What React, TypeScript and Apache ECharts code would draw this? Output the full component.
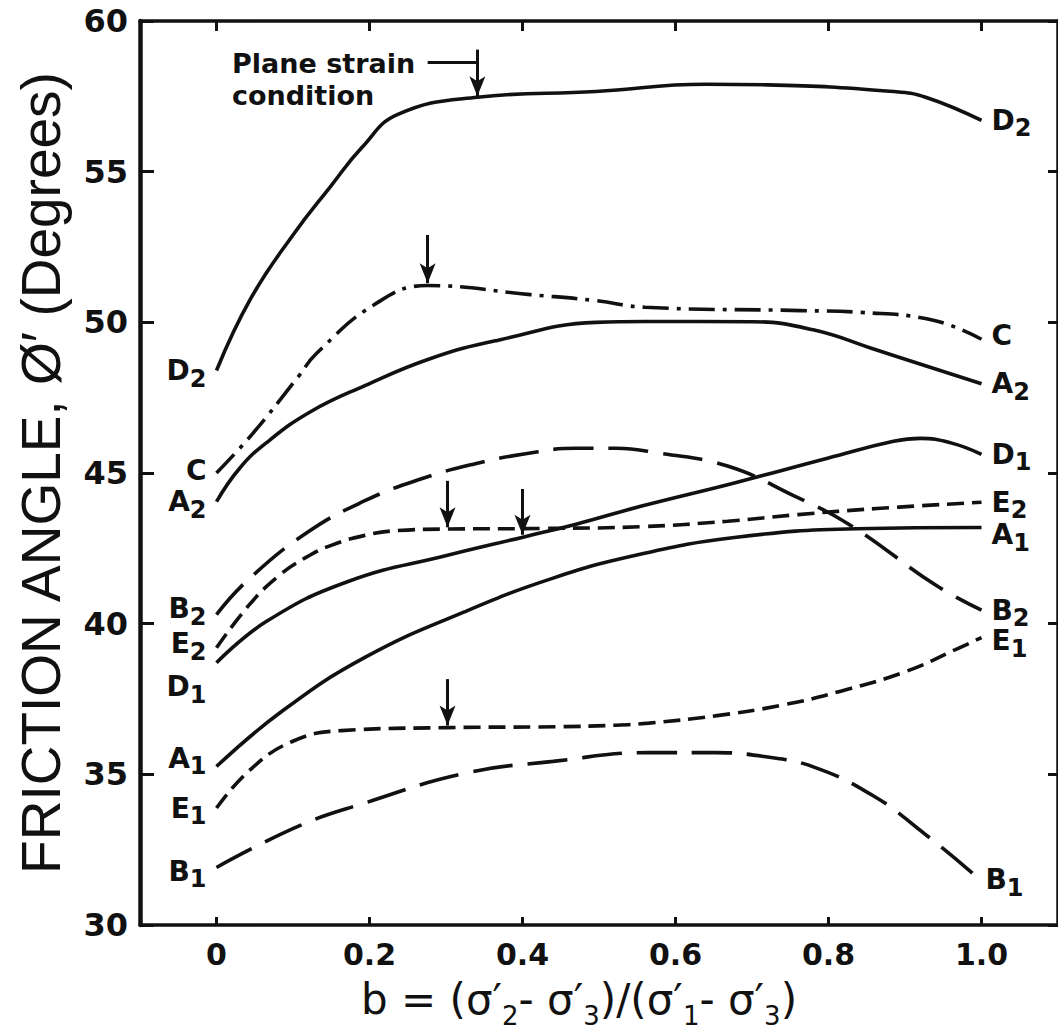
import React, { useEffect, useRef } from "react";
import * as echarts from "echarts";

// ---- axis ticks ----
const X_TICKS = [0, 0.2, 0.4, 0.6, 0.8, 1.0];
const X_TICK_LABELS = ["0", "0.2", "0.4", "0.6", "0.8", "1.0"];
const Y_TICKS = [30, 35, 40, 45, 50, 55, 60];

// ---- curves: [b, friction angle] ----
const D2 = [[0, 48.4], [0.045, 50.8], [0.1, 52.9], [0.15, 54.54], [0.19, 55.8], [0.237, 56.9], [0.341, 57.47], [0.496, 57.66], [0.639, 57.9], [0.72, 57.88], [0.885, 57.66], [0.927, 57.47], [1.0, 56.7]];
const C = [[0, 45.0], [0.047, 46.3], [0.107, 48.2], [0.13, 48.95], [0.207, 50.6], [0.276, 51.22], [0.41, 50.92], [0.496, 50.72], [0.56, 50.5], [0.764, 50.39], [0.842, 50.33], [0.937, 50.07], [1.0, 49.44]];
const A2 = [[0, 44.05], [0.03, 45.15], [0.065, 46.0], [0.124, 47.05], [0.194, 47.9], [0.28, 48.8], [0.367, 49.4], [0.496, 50.0], [0.561, 50.03], [0.7, 50.02], [0.78, 49.75], [0.863, 49.08], [1.0, 47.96]];
const B2 = [[0, 40.3], [0.039, 41.4], [0.117, 43.0], [0.194, 44.08], [0.267, 44.8], [0.337, 45.3], [0.402, 45.63], [0.47, 45.82], [0.522, 45.82], [0.578, 45.66], [0.668, 45.23], [0.755, 44.24], [0.829, 43.26], [0.94, 41.28], [1.0, 40.45]];
const E2 = [[0, 39.2], [0.043, 40.63], [0.082, 41.6], [0.117, 42.2], [0.15, 42.6], [0.194, 42.93], [0.237, 43.09], [0.302, 43.14], [0.427, 43.16], [0.557, 43.22], [0.668, 43.4], [0.76, 43.62], [0.863, 43.82], [1.0, 44.03]];
const D1 = [[0, 38.7], [0.065, 40.07], [0.172, 41.4], [0.302, 42.27], [0.402, 42.88], [0.47, 43.3], [0.557, 43.91], [0.677, 44.67], [0.8, 45.5], [0.885, 46.05], [0.92, 46.15], [0.96, 46.0], [1.0, 45.62]];
const A1 = [[0, 35.26], [0.086, 37.1], [0.194, 38.88], [0.324, 40.39], [0.44, 41.51], [0.548, 42.27], [0.677, 42.86], [0.837, 43.15], [1.0, 43.19]];
const E1 = [[0, 33.88], [0.043, 35.13], [0.099, 36.09], [0.163, 36.45], [0.302, 36.55], [0.444, 36.58], [0.522, 36.63], [0.565, 36.7], [0.652, 36.94], [0.74, 37.3], [0.816, 37.76], [0.902, 38.42], [0.966, 39.14], [1.0, 39.54]];
const B1 = [[0, 31.91], [0.108, 33.29], [0.194, 34.05], [0.324, 35.03], [0.44, 35.43], [0.565, 35.72], [0.652, 35.72], [0.716, 35.59], [0.781, 35.24], [0.859, 34.28], [0.924, 33.06], [0.992, 31.64]];

// ---- arrows: [b, from angle, to angle] ----
const ARROW_PLANE = [0.341, 59.05, 57.5];
const ARROW_C = [0.276, 52.9, 51.3];
const ARROW_E2 = [0.302, 44.74, 43.2];
const ARROW_D1 = [0.4, 44.47, 42.95];
const ARROW_E1 = [0.302, 38.16, 36.62];
const PLANE_DASH = [0.276, 0.341, 58.62];

const FONT = "'DejaVu Sans', sans-serif";
const INK = "#111111";

const SOLID = "solid";
const DASHDOT = [26, 8, 4, 8];
const LONGDASH = [40, 15];
const SHORTDASH = [17, 8];

const CURVES = [
  { id: "D2", main: "D", sub: "2", data: D2, dash: SOLID, lOff: [0, 0], rOff: [0, 0] },
  { id: "C", main: "C", sub: "", data: C, dash: DASHDOT, lOff: [0, -3], rOff: [0, -4] },
  { id: "A2", main: "A", sub: "2", data: A2, dash: SOLID, lOff: [0, 0], rOff: [0, 0] },
  { id: "B2", main: "B", sub: "2", data: B2, dash: LONGDASH, lOff: [0, -6], rOff: [0, 0] },
  { id: "E2", main: "E", sub: "2", data: E2, dash: SHORTDASH, lOff: [0, -4], rOff: [0, 0] },
  { id: "D1", main: "D", sub: "1", data: D1, dash: SOLID, lOff: [0, 24], rOff: [0, 0] },
  { id: "A1", main: "A", sub: "1", data: A1, dash: SOLID, lOff: [0, -8], rOff: [0, 7] },
  { id: "E1", main: "E", sub: "1", data: E1, dash: SHORTDASH, lOff: [0, 0], rOff: [0, 3] },
  { id: "B1", main: "B", sub: "1", data: B1, dash: LONGDASH, lOff: [0, 4], rOff: [0, 4] },
];

const ARROWS: Record<string, number[][]> = {
  D2: [ARROW_PLANE],
  C: [ARROW_C],
  E2: [ARROW_E2],
  D1: [ARROW_D1],
  E1: [ARROW_E1],
};

const labelRich = {
  m: { fontFamily: FONT, fontSize: 28, fontWeight: "bold", color: INK, lineHeight: 40, verticalAlign: "middle" },
  s: { fontFamily: FONT, fontSize: 24, fontWeight: "bold", color: INK, lineHeight: 40, verticalAlign: "bottom" },
};

const titleRich = {
  n: { fontFamily: FONT, fontSize: 42, color: INK, lineHeight: 60, verticalAlign: "middle" },
  s: { fontFamily: FONT, fontSize: 26, color: INK, lineHeight: 60, verticalAlign: "bottom" },
};

function labelText(c: any) {
  return c.sub ? `{m|${c.main}}{s|${c.sub}}` : `{m|${c.main}}`;
}

function buildOption() {
  const lineSeries = CURVES.map((c) => {
    const arrows = ARROWS[c.id] || [];
    const mlData: any[] = arrows.map((a) => [
      { coord: [a[0], a[1]], symbol: "none" },
      { coord: [a[0], a[2]], symbol: "arrow", symbolSize: [12, 20] },
    ]);
    if (c.id === "D2") {
      mlData.push([
        { coord: [PLANE_DASH[0], PLANE_DASH[2]], symbol: "none" },
        { coord: [PLANE_DASH[1], PLANE_DASH[2]], symbol: "none" },
      ]);
    }
    return {
      type: "line",
      name: c.id,
      data: c.data,
      smooth: 0.45,
      symbol: "none",
      lineStyle: { color: INK, width: 3.6, type: c.dash, cap: "butt" },
      silent: true,
      z: 3,
      markLine: mlData.length
        ? {
            silent: true,
            symbol: ["none", "arrow"],
            lineStyle: { color: INK, width: 3, type: "solid" },
            label: { show: false },
            data: mlData,
          }
        : undefined,
    };
  });

  const labelData: any[] = [];
  CURVES.forEach((c) => {
    const first = c.data[0];
    const last = c.data[c.data.length - 1];
    labelData.push({
      value: first,
      label: { show: true, position: "left", distance: 10, offset: c.lOff, color: INK, formatter: labelText(c), rich: labelRich },
    });
    labelData.push({
      value: last,
      label: { show: true, position: "right", distance: 10, offset: c.rOff, color: INK, formatter: labelText(c), rich: labelRich },
    });
  });

  const labelSeries = {
    type: "scatter",
    name: "labels",
    data: labelData,
    symbolSize: 0,
    silent: true,
    itemStyle: { color: INK, opacity: 1 },
    z: 4,
  };

  const xFmt = (v: number) => {
    const i = X_TICKS.findIndex((t) => Math.abs(t - v) < 1e-6);
    return i >= 0 ? X_TICK_LABELS[i] : "";
  };

  return {
    animation: false,
    backgroundColor: "#ffffff",
    grid: { left: 140, right: -8, top: 21, bottom: 101, containLabel: false },
    xAxis: [
      {
        type: "value",
        min: -0.1,
        max: 1.1,
        position: "bottom",
        axisLine: { show: true, onZero: false, lineStyle: { color: INK, width: 3.5 } },
        axisTick: { show: true, inside: true, length: 8, customValues: X_TICKS, lineStyle: { color: INK, width: 3 } },
        axisLabel: {
          show: true,
          customValues: X_TICKS,
          formatter: xFmt,
          fontFamily: FONT,
          fontSize: 30,
          fontWeight: "bold",
          color: INK,
          margin: 14,
        },
        splitLine: { show: false },
        name: "{n|b = (σ′}{s|2}{n|- σ′}{s|3}{n|)/(σ′}{s|1}{n|- σ′}{s|3}{n|)}",
        nameLocation: "middle",
        nameGap: 44,
        nameTextStyle: { rich: titleRich, padding: [0, 40, 0, 0] },
      },
      {
        type: "value",
        min: -0.1,
        max: 1.1,
        position: "top",
        axisLine: { show: true, onZero: false, lineStyle: { color: INK, width: 3.5 } },
        axisTick: { show: true, inside: true, length: 10, customValues: X_TICKS, lineStyle: { color: INK, width: 3 } },
        axisLabel: { show: false },
        splitLine: { show: false },
      },
    ],
    yAxis: [
      {
        type: "value",
        min: 30,
        max: 60,
        interval: 5,
        position: "left",
        axisLine: { show: true, onZero: false, lineStyle: { color: INK, width: 4.5 } },
        axisTick: { show: true, inside: true, length: 14, customValues: Y_TICKS, lineStyle: { color: INK, width: 3 } },
        axisLabel: { show: true, fontFamily: FONT, fontSize: 32, fontWeight: "bold", color: INK, margin: 12 },
        splitLine: { show: false },
        name: "FRICTION ANGLE, Ø′ (Degrees)",
        nameLocation: "middle",
        nameGap: 72,
        nameTextStyle: { fontFamily: "'Liberation Sans', sans-serif", fontSize: 55, color: INK },
      },
      {
        type: "value",
        min: 30,
        max: 60,
        interval: 5,
        position: "right",
        axisLine: { show: true, onZero: false, lineStyle: { color: INK, width: 3.5 } },
        axisTick: { show: true, inside: true, length: 10, customValues: Y_TICKS, lineStyle: { color: INK, width: 3 } },
        axisLabel: { show: false },
        splitLine: { show: false },
      },
    ],
    graphic: [
      {
        type: "text",
        left: 232,
        top: 47,
        silent: true,
        style: {
          text: "Plane strain\ncondition",
          fontFamily: FONT,
          fontSize: 27,
          fontWeight: "bold",
          lineHeight: 32,
          fill: INK,
        },
      },
    ],
    series: [...lineSeries, labelSeries],
  };
}

export default function App() {
  const ref = useRef<HTMLDivElement>(null);
  useEffect(() => {
    if (!ref.current) return;
    const chart = echarts.init(ref.current, undefined, { renderer: "svg" });
    chart.setOption(buildOption() as any);
    return () => chart.dispose();
  }, []);
  return (
    <div
      ref={ref}
      style={{ position: "absolute", left: 0, top: 0, width: 1058, height: 1034, background: "#fff", overflow: "hidden" }}
    />
  );
}
